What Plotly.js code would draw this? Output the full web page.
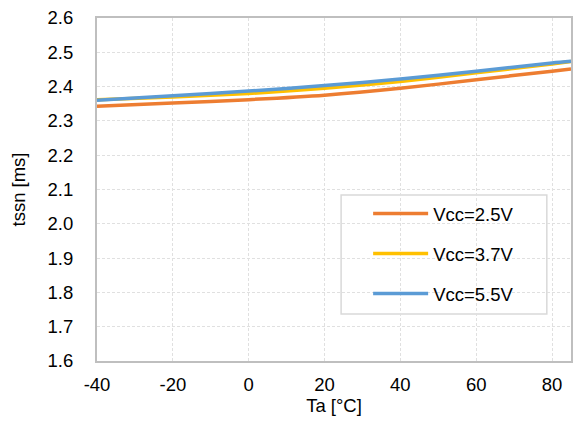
<!DOCTYPE html>
<html>
<head>
<meta charset="utf-8">
<script src="https://cdn.plot.ly/plotly-3.0.1.min.js"></script>
<style>html,body{margin:0;padding:0;background:#fff;}#chart{width:573px;height:424px;}</style>
</head>
<body>
<div id="chart"></div>
<script>
const temps = [-40, -20, 0, 20, 40, 60, 80, 85];
const vcc25 = [2.343, 2.352, 2.362, 2.375, 2.395, 2.420, 2.445, 2.451];
const vcc37 = [2.362, 2.370, 2.380, 2.395, 2.415, 2.440, 2.466, 2.473];
const vcc55 = [2.360, 2.373, 2.387, 2.403, 2.422, 2.445, 2.469, 2.474];
const seriesNames = ['Vcc=2.5V', 'Vcc=3.7V', 'Vcc=5.5V'];
const xTicks = [-40, -20, 0, 20, 40, 60, 80];
const yTicks = [1.6, 1.7, 1.8, 1.9, 2.0, 2.1, 2.2, 2.3, 2.4, 2.5, 2.6];

const colors = ['#ED7D31', '#FFC000', '#5B9BD5'];
const series = [vcc25, vcc37, vcc55];
const traces = series.map((ys, i) => ({
  x: temps, y: ys, type: 'scatter', mode: 'lines', name: seriesNames[i],
  legendgroup: 'g' + i,
  line: {color: colors[i], width: 3.5, shape: 'spline', smoothing: 0.8}
}));

const font = {family: 'Liberation Sans, Arial, sans-serif', size: 18.5, color: '#000'};
const layout = {
  width: 573, height: 424,
  margin: {l: 97, r: 2, t: 18, b: 63},
  paper_bgcolor: '#fff', plot_bgcolor: '#fff',
  font: font,
  showlegend: true,
  legend: {
    x: 0.572, y: 0.484, xanchor: 'left', yanchor: 'top',
    bgcolor: 'rgba(0,0,0,0)', borderwidth: 0,
    traceorder: 'grouped', tracegroupgap: 13,
    itemwidth: 55,
    font: font
  },
  shapes: [{
    type: 'rect', xref: 'paper', yref: 'paper',
    x0: 0.515, x1: 0.949, y0: 0.137, y1: 0.484,
    line: {color: '#d9d9d9', width: 1.5}, fillcolor: 'rgba(255,255,255,1)', layer: 'below'
  }],
  xaxis: {
    range: [-40, 85], tickvals: xTicks, ticktext: xTicks.map(String),
    showgrid: true, gridcolor: '#e0e0e0', griddash: '3px,2px', gridwidth: 1,
    showline: true, linecolor: '#bfbfbf', linewidth: 2, mirror: true,
    ticks: 'outside', ticklen: 6, tickcolor: 'rgba(0,0,0,0)',
    zeroline: false,
    title: {text: 'Ta [°C]', font: font, standoff: 3},
    tickfont: font
  },
  yaxis: {
    range: [1.6, 2.6], tickvals: yTicks, ticktext: yTicks.map(v => v.toFixed(1)),
    showgrid: true, gridcolor: '#e0e0e0', griddash: '3px,2px', gridwidth: 1,
    showline: true, linecolor: '#bfbfbf', linewidth: 2, mirror: true,
    ticks: 'outside', ticklen: 18, tickcolor: 'rgba(0,0,0,0)',
    zeroline: false,
    title: {text: 'tssn [ms]', font: font, standoff: 17},
    tickfont: font
  }
};
Plotly.newPlot('chart', traces, layout, {displayModeBar: false, staticPlot: true});
</script>
</body>
</html>
